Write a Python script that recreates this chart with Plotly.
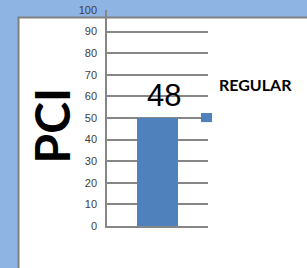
import plotly.graph_objects as go

categories = ["REGULAR"]
values = [50]
value_labels = ["48"]
tick_vals = [0, 10, 20, 30, 40, 50, 60, 70, 80, 90, 100]
axis_title = "PCI"
legend_name = "REGULAR"

BAR = "#4F81BD"
GRID = "#868686"
BLUE = "#8EB4E3"

fig = go.Figure()
fig.add_trace(go.Bar(x=categories, y=values, marker=dict(color=BAR, line=dict(width=0)),
                     showlegend=False, hoverinfo="skip"))

fig.update_layout(
    width=307, height=268,
    margin=dict(l=107, r=99, t=10, b=42, pad=0, autoexpand=False),
    paper_bgcolor=BLUE,
    plot_bgcolor="rgba(0,0,0,0)",
    bargap=0.594,
    showlegend=False,
    font=dict(family="Liberation Sans, Arial, sans-serif", color="#404040"),
)
fig.update_xaxes(showticklabels=False, showgrid=False, showline=True, linecolor=GRID,
                 linewidth=1.5, ticks="", zeroline=False, fixedrange=True)
fig.update_yaxes(range=[0, 100], tickvals=tick_vals, ticktext=[str(v) for v in tick_vals],
                 showgrid=True, gridcolor=GRID, gridwidth=1.5, showline=True, linecolor=GRID,
                 linewidth=1.5, zeroline=False, ticks="", ticklabelstandoff=6,
                 tickfont=dict(size=11, color="#404040"), fixedrange=True)

# white chart panel
fig.add_shape(type="rect", xref="paper", yref="paper", x0=-0.876, x1=2.1, y0=-0.3, y1=0.965,
              fillcolor="white", line=dict(color="#808080", width=2), layer="below")

# legend swatch and label
fig.add_shape(type="rect", xref="paper", yref="paper", x0=0.931, x1=1.040, y0=0.481, y1=0.523,
              fillcolor=BAR, line=dict(width=0), layer="above")
fig.add_annotation(text="<b>%s</b>" % legend_name, xref="paper", yref="paper", x=1.089, y=0.653,
                   xanchor="left", yanchor="middle", showarrow=False,
                   font=dict(family="Lato, Roboto, sans-serif", size=16, color="black"))

# axis title
fig.add_annotation(text="<b>%s</b>" % axis_title, xref="paper", yref="paper", x=-0.545, y=0.465,
                   xanchor="center", yanchor="middle", textangle=-90, showarrow=False,
                   font=dict(family="Lato, Roboto, sans-serif", size=48, color="black"))

# data label
for c, v, t in zip(categories, values, value_labels):
    fig.add_annotation(text=t, x=c, y=v, xref="x", yref="y", xanchor="center", yanchor="bottom",
                       xshift=6, yshift=3, showarrow=False,
                       font=dict(family="Liberation Sans, Arial, sans-serif", size=31, color="black"))

fig.write_html("out.html", config={"displayModeBar": False},
               post_script="document.body.style.margin='0';document.body.style.overflow='hidden';")
